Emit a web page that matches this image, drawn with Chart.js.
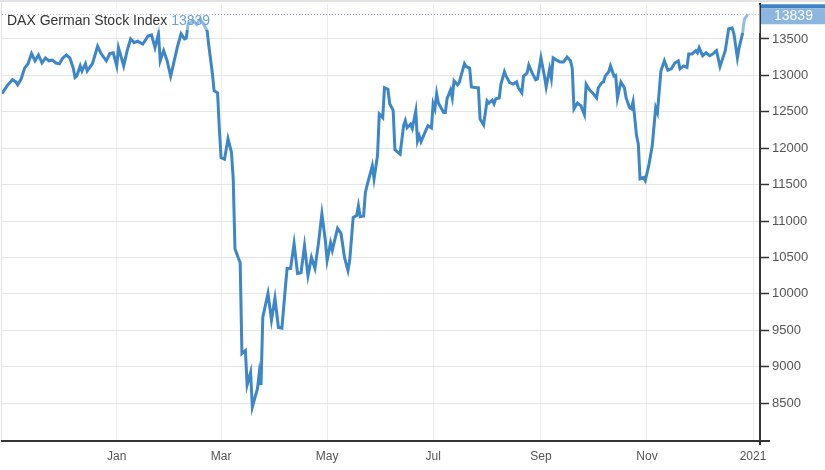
<!DOCTYPE html>
<html>
<head>
<meta charset="utf-8">
<title>DAX German Stock Index</title>
<script src="https://cdn.jsdelivr.net/npm/chart.js@4.4.1/dist/chart.umd.min.js"></script>
<style>
  html, body { margin: 0; padding: 0; background: #fff; }
  canvas { display: block; }
</style>
</head>
<body>
<canvas id="daxChart" width="825" height="470"></canvas>
<script>
// days counted from 2020-01-01 (negative = late 2019)
const days = [
  -66, -63, -60, -58, -57, -55, -53, -51, -49, -47, -45, -43, -41, -39, -37, -35, -33, -31, -29, -27,
  -25, -24, -23, -21, -20, -18, -17, -14, -11, -9, -6, -4, -2, 0, 1, 4, 6, 8, 10, 12,
  15, 18, 20, 22, 24, 25, 27, 29, 31, 32, 35, 37, 39, 40, 41, 44, 46, 48, 50, 52,
  53, 55, 56, 58, 59, 60, 62, 64, 66, 67, 68, 70, 71, 72, 74, 75, 77, 78, 81, 82,
  83, 84, 87, 89, 91, 93, 95, 97, 98, 100, 102, 104, 106, 108, 110, 112, 114, 116, 118, 120,
  121, 123, 124, 127, 129, 131, 133, 134, 136, 138, 139, 140, 142, 143, 144, 147, 148, 150, 151, 153,
  154, 156, 157, 159, 160, 163, 165, 166, 167, 169, 170, 172, 173, 174, 175, 177, 179, 181, 182, 183,
  184, 185, 188, 189, 190, 192, 193, 194, 196, 197, 198, 200, 201, 203, 204, 207, 208, 209, 211, 213,
  214, 216, 217, 218, 220, 221, 223, 224, 226, 228, 230, 231, 233, 234, 236, 237, 239, 241, 242, 244,
  246, 247, 249, 250, 251, 253, 255, 257, 259, 261, 262, 263, 265, 267, 269, 270, 272, 274, 276, 277,
  279, 280, 281, 283, 284, 286, 287, 288, 290, 292, 293, 295, 296, 297, 299, 300, 301, 303, 304, 306,
  308, 310, 311, 313, 315, 317, 319, 321, 323, 324, 326, 328, 329, 331, 333, 334, 335, 337, 339, 341,
  343, 345, 347, 350, 352, 354, 355, 357, 358, 360, 361, 363
];
const closes = [
  12750, 12860, 12940, 12910, 12870, 12950, 13100, 13160, 13300, 13200, 13280, 13170, 13240, 13200, 13210, 13170, 13160, 13240, 13280, 13240,
  13100, 12970, 12990, 13130, 13060, 13160, 13060, 13160, 13400, 13300, 13200, 13300, 13310, 13130, 13380, 13130, 13340, 13500, 13450, 13470,
  13430, 13540, 13555, 13380, 13570, 13200, 13340, 13200, 12990, 13090, 13400, 13570, 13500, 13510, 13700, 13750, 13700, 13775, 13700, 13610,
  13400, 13030, 12790, 12760, 12270, 11870, 11850, 12130, 11940, 11580, 10620, 10490, 10430, 9180, 9220, 8750, 8920, 8445, 8705, 8920,
  8750, 9680, 10006, 9640, 9940, 9540, 9530, 10090, 10350, 10350, 10690, 10280, 10290, 10660, 10250, 10500, 10350, 10690, 11100, 10730,
  10460, 10700, 10600, 10900, 10830, 10500, 10320, 10460, 11050, 11075, 11210, 11060, 11070, 11390, 11490, 11760, 11580, 11900, 12470, 12420,
  12830, 12810, 12610, 12520, 11980, 11920, 12310, 12380, 12280, 12330, 12270, 12510, 12100, 12170, 12090, 12200, 12310, 12280, 12610, 12540,
  12750, 12620, 12490, 12490, 12680, 12800, 12690, 12925, 12870, 12900, 12990, 13160, 13120, 13100, 12840, 12830, 12830, 12400, 12320, 12650,
  12620, 12660, 12610, 12680, 12690, 12880, 13050, 12990, 12900, 12880, 12910, 12830, 12760, 12990, 13030, 13140, 13030, 12940, 12950, 13240,
  12990, 12840, 13090, 12960, 13240, 13210, 13185, 13185, 13250, 13200, 13100, 12540, 12620, 12580, 12460, 12880, 12800, 12750, 12690, 12830,
  12900, 12910, 12990, 13050, 13130, 12990, 13000, 12690, 12910, 12830, 12690, 12555, 12540, 12640, 12170, 12060, 11580, 11600, 11555, 11760,
  12030, 12555, 12490, 13060, 13200, 13070, 13090, 13170, 13200, 13090, 13130, 13110, 13295, 13295, 13340, 13310, 13380, 13270, 13310, 13270,
  13295, 13340, 13120, 13340, 13640, 13650, 13570, 13240, 13380, 13580, 13770, 13839
];

const tickDays = [0, 60, 121, 182, 244, 305, 366];
const tickLabels = ['Jan', 'Mar', 'May', 'Jul', 'Sep', 'Nov', '2021'];
const yTicks = [8500, 9000, 9500, 10000, 10500, 11000, 11500, 12000, 12500, 13000, 13500];
const seriesName = 'DAX German Stock Index';
const lastValue = closes[closes.length - 1];

const points = days.map((d, i) => ({ x: d, y: closes[i] }));

const extras = {
  id: 'extras',
  beforeDraw(chart) {
    const c = chart.ctx;
    c.save();
    c.fillStyle = '#e2e2e2';
    c.fillRect(0, 0, chart.width, 2);
    c.fillRect(1, 0, 1, chart.chartArea.bottom);
    c.restore();
  },
  beforeDatasetsDraw(chart) {
    const c = chart.ctx;
    const a = chart.chartArea;
    const y = Math.round(chart.scales.y.getPixelForValue(lastValue)) + 0.5;
    c.save();
    c.strokeStyle = '#8f8fdc';
    c.lineWidth = 1;
    c.setLineDash([1, 2]);
    c.beginPath();
    c.moveTo(a.left, y);
    c.lineTo(a.right, y);
    c.stroke();
    c.restore();
  },
  afterDatasetsDraw(chart) {
    const c = chart.ctx;
    const a = chart.chartArea;
    c.save();
    // faded band behind the title and near the last value
    c.fillStyle = 'rgba(255,255,255,0.45)';
    c.fillRect(3, 5, 207, 25);
    c.fillRect(738, 5, a.right - 738, 28);

    c.font = '14px "Liberation Sans", Arial, sans-serif';
    c.textBaseline = 'alphabetic';
    c.fillStyle = '#333';
    c.fillText(seriesName, 7, 25);
    const w = c.measureText(seriesName + ' ').width;
    c.fillStyle = '#6a9fd6';
    c.fillText(String(lastValue), 7 + w, 25);

    // bottom axis runs a little past the right axis
    c.strokeStyle = '#333';
    c.lineWidth = 2;
    c.beginPath();
    c.moveTo(a.right, a.bottom);
    c.lineTo(a.right + 10, a.bottom);
    c.moveTo(a.right, a.bottom);
    c.lineTo(a.right, a.bottom + 4);
    c.stroke();

    // last value box on the right axis
    const yv = chart.scales.y.getPixelForValue(lastValue);
    c.fillStyle = '#3e82c6';
    c.fillRect(a.right + 1, yv - 10, chart.width - a.right, 4);
    c.fillStyle = '#8cb5e0';
    c.fillRect(a.right + 1, yv - 6, chart.width - a.right, 16);
    c.fillStyle = '#fff';
    c.font = '14px "Liberation Sans", Arial, sans-serif';
    c.fillText(String(lastValue), a.right + 14, yv + 6);
    c.restore();
  }
};

const ctx = document.getElementById('daxChart').getContext('2d');
const chart = new Chart(ctx, {
  type: 'line',
  data: {
    datasets: [{
      label: seriesName,
      data: points,
      borderColor: '#3d86c7',
      borderWidth: 3,
      pointRadius: 0,
      tension: 0,
      fill: false,
    }]
  },
  options: {
    responsive: false,
    animation: false,
    devicePixelRatio: 1,
    layout: { padding: { top: 4, left: 2, right: 0, bottom: 0 } },
    plugins: {
      legend: { display: false },
      tooltip: { enabled: false },
    },
    scales: {
      x: {
        type: 'linear',
        min: -66,
        max: 370,
        afterBuildTicks: (s) => { s.ticks = tickDays.map(v => ({ value: v })); },
        afterFit: (s) => { s.height = 29; s.paddingLeft = 0; s.paddingRight = 0; },
        grid: { color: '#ececec', drawTicks: false },
        border: { color: '#333', width: 2 },
        ticks: {
          autoSkip: false,
          maxRotation: 0,
          padding: 8,
          color: '#555',
          font: { family: '"Liberation Sans", Arial, sans-serif', size: 12 },
          callback: (v) => tickLabels[tickDays.indexOf(v)] ?? '',
        }
      },
      y: {
        position: 'right',
        min: 7980,
        max: 13980,
        afterBuildTicks: (s) => { s.ticks = yTicks.map(v => ({ value: v })); },
        afterFit: (s) => { s.width = 65; s.paddingTop = 0; s.paddingBottom = 0; },
        grid: { color: '#e6e6e6', tickColor: '#333', tickLength: 9, tickWidth: 1.5 },
        border: { color: '#333', width: 2 },
        ticks: {
          padding: 3,
          color: '#555',
          font: { family: '"Liberation Sans", Arial, sans-serif', size: 13 },
          callback: (v) => String(v),
        }
      }
    }
  },
  plugins: [extras]
});
</script>
</body>
</html>
